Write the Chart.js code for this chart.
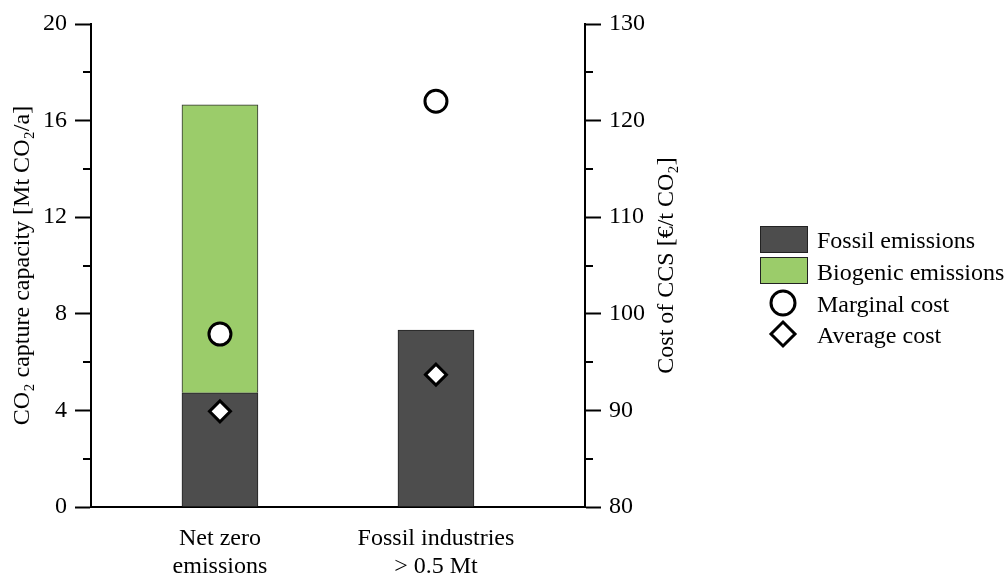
<!DOCTYPE html>
<html><head><meta charset="utf-8">
<script src="https://cdn.jsdelivr.net/npm/chart.js@4/dist/chart.umd.min.js"></script>
<style>html,body{margin:0;padding:0;background:#fff}#wrap{width:1008px;height:576px}</style>
</head><body><div id="wrap"><canvas id="c" width="1008" height="576"></canvas></div>
<script>
// ---- data ----
const categories = [['Net zero', 'emissions'], ['Fossil industries', '> 0.5 Mt']];
const categoryPositions = [0, 1];
const fossilEmissions = [4.73, 7.33];          // Mt CO2/a
const biogenicEmissions = [11.92, null];       // Mt CO2/a (stacked on fossil)
const marginalCost = [97.9, 122.0];            // €/t CO2
const averageCost = [89.9, 93.7];              // €/t CO2
const leftTickValues = [0, 4, 8, 12, 16, 20];
const leftMinorTicks = [2, 6, 10, 14, 18];
const rightTickValues = [80, 90, 100, 110, 120, 130];
const rightMinorTicks = [85, 95, 105, 115, 125];
const seriesNames = ['Fossil emissions', 'Biogenic emissions', 'Marginal cost', 'Average cost'];

// ---- style ----
const FONT_FAMILY = "'Liberation Serif','DejaVu Serif','Times New Roman',serif";
const FONT = {family: FONT_FAMILY, size: 24};
const FOSSIL_COLOR = '#4d4d4d';
const BIO_COLOR = '#9bcc6a';

const toXY = (vals) => categoryPositions.map((x, i) => ({x, y: vals[i]})).filter(p => p.y !== null);

const extras = {
  id: 'extras',
  afterDraw(chart) {
    const ctx = chart.ctx;
    const y = chart.scales.y, y1 = chart.scales.y1;
    ctx.save();
    // minor ticks
    ctx.strokeStyle = '#000';
    ctx.lineWidth = 2;
    leftMinorTicks.forEach(v => {
      const py = Math.round(y.getPixelForValue(v));
      ctx.beginPath(); ctx.moveTo(chart.chartArea.left, py); ctx.lineTo(chart.chartArea.left - 8, py); ctx.stroke();
    });
    rightMinorTicks.forEach(v => {
      const py = Math.round(y1.getPixelForValue(v));
      ctx.beginPath(); ctx.moveTo(chart.chartArea.right, py); ctx.lineTo(chart.chartArea.right + 8, py); ctx.stroke();
    });
    // right axis title (reads bottom-to-top)
    ctx.fillStyle = '#000';
    ctx.font = `24px ${FONT_FAMILY}`;
    ctx.textAlign = 'center';
    ctx.textBaseline = 'middle';
    ctx.translate(y1.right - 18, (chart.chartArea.top + chart.chartArea.bottom) / 2);
    ctx.rotate(-Math.PI / 2);
    ctx.fillText('Cost of CCS [€/t CO₂]', 0, 0);
    ctx.restore();

    // legend
    ctx.save();
    ctx.font = `24px ${FONT_FAMILY}`;
    ctx.textAlign = 'left';
    ctx.textBaseline = 'alphabetic';
    ctx.fillStyle = '#000';
    const lx = 760, tx = 817;
    ctx.fillStyle = FOSSIL_COLOR; ctx.fillRect(lx, 226, 48, 27);
    ctx.strokeStyle = '#222'; ctx.lineWidth = 1; ctx.strokeRect(lx + 0.5, 226.5, 47, 26);
    ctx.fillStyle = BIO_COLOR; ctx.fillRect(lx, 257, 48, 27);
    ctx.strokeRect(lx + 0.5, 257.5, 47, 26);
    ctx.lineWidth = 3; ctx.strokeStyle = '#000'; ctx.fillStyle = '#fff';
    ctx.beginPath(); ctx.arc(783, 303, 12, 0, Math.PI * 2); ctx.fill(); ctx.stroke();
    ctx.beginPath(); ctx.moveTo(783, 322); ctx.lineTo(795, 334); ctx.lineTo(783, 346); ctx.lineTo(771, 334); ctx.closePath(); ctx.fill(); ctx.stroke();
    ctx.fillStyle = '#000';
    ctx.fillText(seriesNames[0], tx, 248);
    ctx.fillText(seriesNames[1], tx, 280);
    ctx.fillText(seriesNames[2], tx, 312);
    ctx.fillText(seriesNames[3], tx, 343);
    ctx.restore();
  }
};

new Chart(document.getElementById('c'), {
  data: {
    datasets: [
      {type: 'scatter', label: seriesNames[2], data: toXY(marginalCost), yAxisID: 'y1', xAxisID: 'x',
       pointStyle: 'circle', pointRadius: 11, pointHoverRadius: 11, borderWidth: 3, borderColor: '#000', backgroundColor: '#fff', order: 0},
      {type: 'scatter', label: seriesNames[3], data: toXY(averageCost), yAxisID: 'y1', xAxisID: 'x',
       pointStyle: 'rectRot', pointRadius: 10.5, pointHoverRadius: 10.5, borderWidth: 3, borderColor: '#000', backgroundColor: '#fff', order: 0},
      {type: 'bar', label: seriesNames[0], data: toXY(fossilEmissions), yAxisID: 'y', xAxisID: 'x',
       backgroundColor: FOSSIL_COLOR, borderColor: '#222', borderWidth: 1, barThickness: 76, order: 2},
      {type: 'bar', label: seriesNames[1], data: toXY(biogenicEmissions), yAxisID: 'y', xAxisID: 'x',
       backgroundColor: BIO_COLOR, borderColor: '#333', borderWidth: 1, barThickness: 76, order: 2}
    ]
  },
  options: {
    responsive: false,
    animation: false,
    layout: {padding: {left: 0, top: 24, right: 323, bottom: 0}},
    plugins: {legend: {display: false}, tooltip: {enabled: false}},
    scales: {
      x: {
        type: 'linear', min: -0.597, max: 1.69, stacked: true, offset: false, bounds: 'ticks',
        afterBuildTicks: s => { s.ticks = categoryPositions.map(v => ({value: v})); },
        ticks: {font: FONT, color: '#000', padding: 17, maxRotation: 0, autoSkip: false,
                callback: (v, i) => categories[i]},
        grid: {display: false, drawTicks: false, offset: false},
        border: {display: true, color: '#000', width: 2},
        afterFit: s => { s.height = 69; }
      },
      y: {
        position: 'left', min: 0, max: 20, stacked: true,
        afterBuildTicks: s => { s.ticks = leftTickValues.map(v => ({value: v})); },
        ticks: {font: FONT, color: '#000', padding: 8},
        grid: {drawOnChartArea: false, drawTicks: true, tickLength: 16, tickWidth: 2, tickColor: '#000'},
        border: {display: true, color: '#000', width: 2},
        title: {display: true, text: 'CO₂ capture capacity [Mt CO₂/a]', font: FONT, color: '#000', padding: {top: 8, bottom: 0}},
        afterFit: s => { s.width = 91; }
      },
      y1: {
        position: 'right', min: 80, max: 130,
        afterBuildTicks: s => { s.ticks = rightTickValues.map(v => ({value: v})); },
        ticks: {font: FONT, color: '#000', padding: 8},
        grid: {drawOnChartArea: false, drawTicks: true, tickLength: 16, tickWidth: 2, tickColor: '#000'},
        border: {display: true, color: '#000', width: 2},
        afterFit: s => { s.width = 100; }
      }
    }
  },
  plugins: [extras]
});
</script>
</body></html>
